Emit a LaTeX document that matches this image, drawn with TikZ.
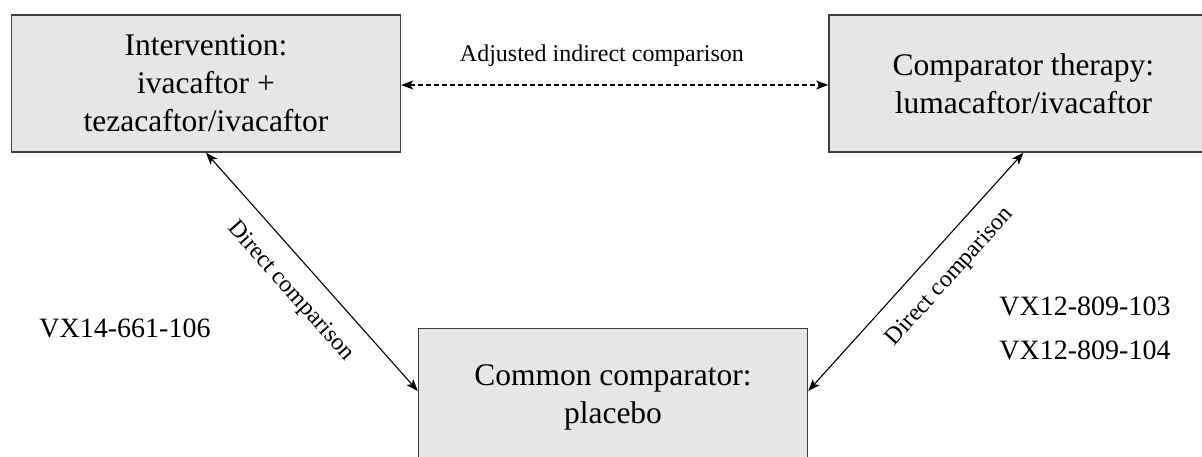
\documentclass[tikz,border=0pt]{standalone}
\usepackage{fontspec}
\setmainfont{Liberation Serif}
\newfontfamily\timesface{Liberation Serif}
\usetikzlibrary{positioning,arrows.meta}
\definecolor{BoxFill}{HTML}{E7E6E6}
\definecolor{BoxLine}{HTML}{3F3F3F}

\begin{document}
\begin{tikzpicture}[x=1pt,y=-1pt,>={Stealth[length=12pt,width=9pt,inset=3pt]},node distance=427pt]
  \tikzstyle{armbox}=[draw=BoxLine,fill=BoxFill,line width=1.4pt,
    minimum width=389pt,minimum height=137pt,inner sep=0pt,align=center,
    font=\timesface\fontsize{31.5}{38}\selectfont]
  \tikzstyle{linklabel}=[font=\timesface\fontsize{24}{28}\selectfont,inner sep=2pt]
  \tikzstyle{triallabel}=[align=center,font=\timesface\fontsize{28}{44}\selectfont]
  \tikzstyle{link}=[<->,line width=1.1pt]
  \clip (0,0) rectangle (1202,457);
  \node[armbox] (intervention) at (206,83.5) {Intervention:\\ivacaftor +\\tezacaftor/ivacaftor};
  \node[armbox,right=of intervention] (comparator) {Comparator therapy:\\lumacaftor/ivacaftor};
  \node[armbox] (common) at (613,397) {Common comparator:\\placebo};
  \node[triallabel] (trial106) at (125,328) {VX14-661-106};
  \node[triallabel] (trials809) at (1085,328) {VX12-809-103\\VX12-809-104};
  \draw[link,dash pattern=on 5pt off 3pt] ([yshift=-1.5pt]intervention.east)--([yshift=-1.5pt]comparator.west)
    node[linklabel,pos=0.47,above=16pt] (indirect) {Adjusted indirect comparison};
  \draw[link] (intervention.south)--([yshift=6pt]common.west)
    node[linklabel,sloped,pos=0.5,below=16pt] (directleft) {Direct comparison};
  \draw[link] ([yshift=6pt]common.east)--(comparator.south)
    node[linklabel,sloped,pos=0.56,below=16pt] (directright) {Direct comparison};
\end{tikzpicture}
\end{document}
